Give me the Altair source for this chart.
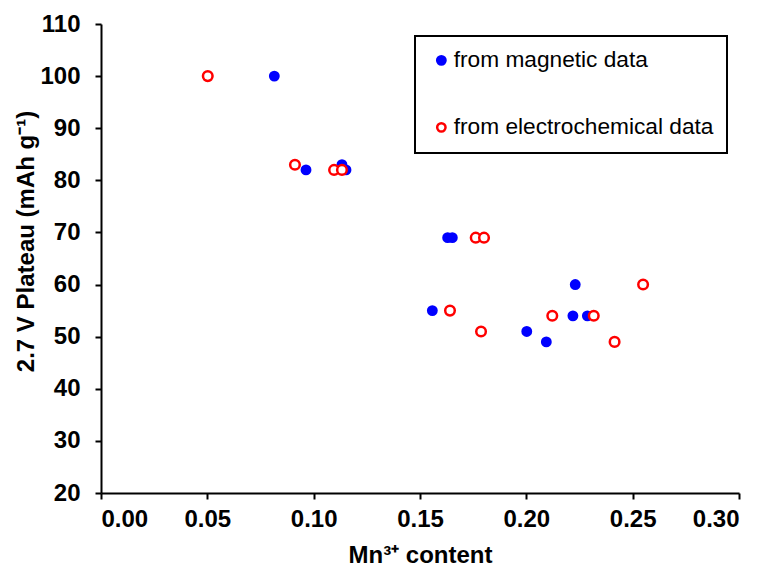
import altair as alt
import pandas as pd

# Data
series_names = ["from magnetic data", "from electrochemical data"]

mag_x = [0.0815, 0.0964, 0.1133, 0.1152, 0.1630, 0.1652, 0.2230, 0.1558, 0.2219, 0.2287, 0.2002, 0.2094]
mag_y = [100, 82, 83, 82, 69, 69, 60, 55, 54, 54, 51, 49]

ec_x = [0.0502, 0.0912, 0.1096, 0.1133, 0.1762, 0.1801, 0.2549, 0.1641, 0.1787, 0.2122, 0.2317, 0.2415]
ec_y = [100, 83, 82, 82, 69, 69, 60, 55, 51, 54, 54, 49]

x_ticks = [0.00, 0.05, 0.10, 0.15, 0.20, 0.25, 0.30]
y_ticks = [20, 30, 40, 50, 60, 70, 80, 90, 100, 110]

rows = []
for i, (a, b) in enumerate(zip(mag_x, mag_y)):
    rows.append({"x": a, "y": b, "series": series_names[0], "sz": 70, "ord": i})
for i, (a, b) in enumerate(zip(ec_x, ec_y)):
    rows.append({"x": a, "y": b, "series": series_names[1], "sz": 92, "ord": 100 + i})
df = pd.DataFrame(rows)

FONT = "Liberation Sans"

chart = alt.Chart(df).mark_point(shape="circle", strokeWidth=2.5, opacity=1).encode(
    x=alt.X("x:Q",
            scale=alt.Scale(domain=[0, 0.3], nice=False, zero=False),
            axis=alt.Axis(values=x_ticks, format=".2f", title="Mn³⁺ content",
                          labelPadding=8, titlePadding=12)),
    y=alt.Y("y:Q",
            scale=alt.Scale(domain=[20, 110], nice=False, zero=False),
            axis=alt.Axis(values=y_ticks, title="2.7 V Plateau (mAh g⁻¹)",
                          labelPadding=15, titlePadding=1, titleY=217)),
    fill=alt.Fill("series:N", title=None,
                  scale=alt.Scale(domain=series_names, range=["#0000FF", "#FFFFFF"])),
    stroke=alt.Stroke("series:N", title=None,
                      scale=alt.Scale(domain=series_names, range=["#0000FF", "#FF0000"])),
    size=alt.Size("sz:Q", scale=None),
    order=alt.Order("ord:Q"),
).properties(
    width=638,
    height=469,
    autosize=alt.AutoSizeParams(type="none"),
    padding={"left": 101, "top": 24, "right": 25, "bottom": 74},
).configure_view(
    stroke=None
).configure_axis(
    grid=False,
    domainColor="black", domainWidth=2,
    tickColor="black", tickWidth=2, tickSize=6,
    labelFont=FONT, labelFontSize=24, labelFontWeight="bold", labelColor="black",
    titleFont=FONT, titleFontSize=24, titleFontWeight="bold", titleColor="black",
).configure_legend(
    orient="none", legendX=314, legendY=12,
    padding=13, symbolOffset=2,
    strokeColor="black", strokeWidth=2, fillColor="white",
    labelFont=FONT, labelFontSize=22.7, labelColor="black", labelLimit=600,
    labelOffset=1, rowPadding=43,
    symbolSize=70, symbolStrokeWidth=2.5, symbolType="circle",
)

chart.save("out.html", embed_options={"renderer": "svg", "actions": False})
